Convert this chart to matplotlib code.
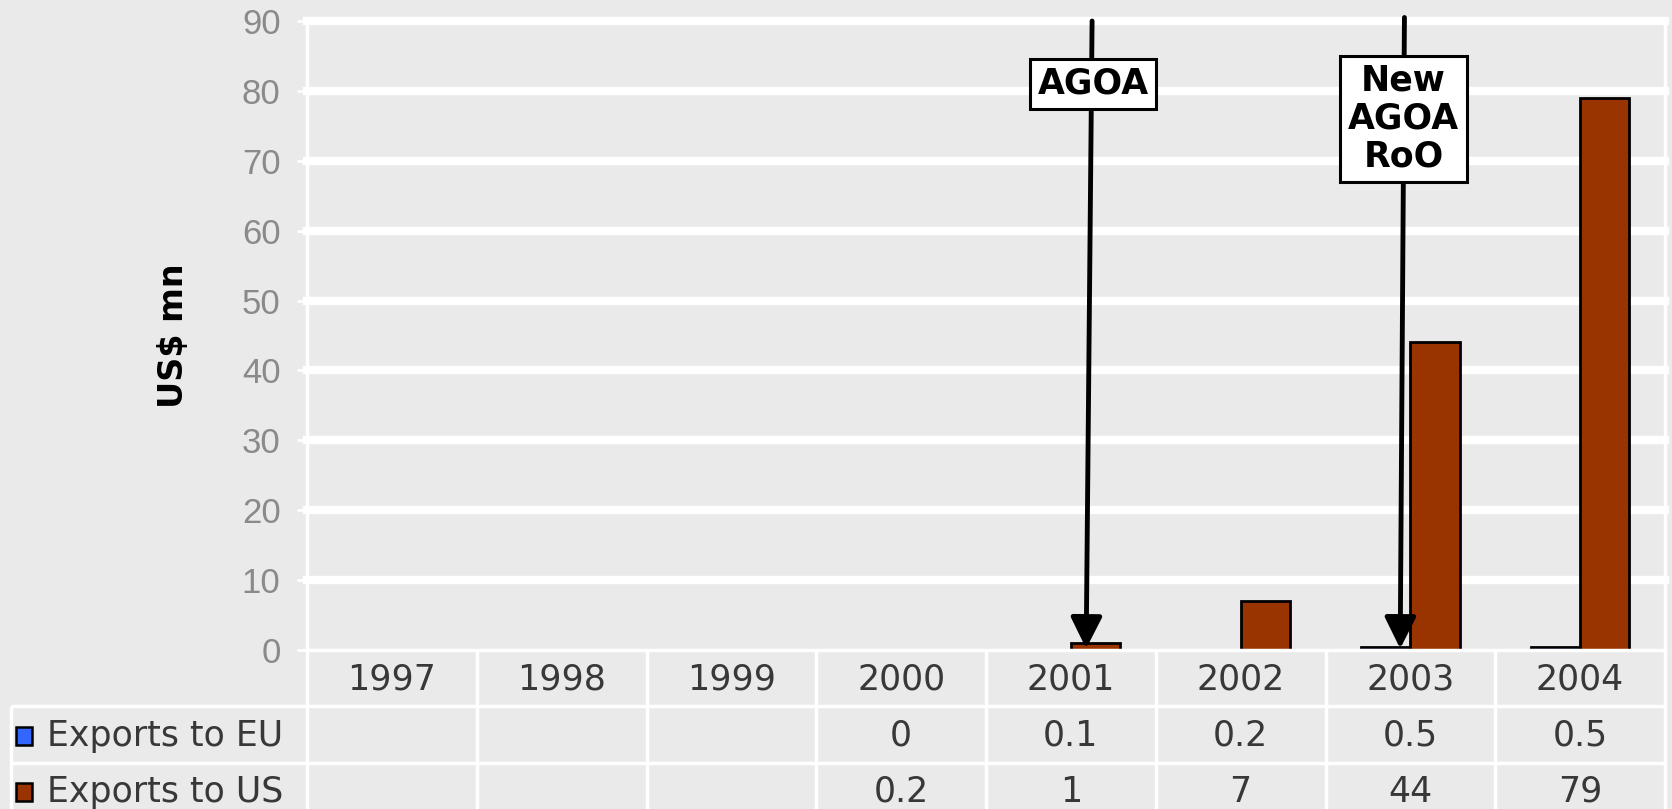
import matplotlib.pyplot as plt
import numpy as np

# data
years = ['1997', '1998', '1999', '2000', '2001', '2002', '2003', '2004']
eu_exports = [None, None, None, 0, 0.1, 0.2, 0.5, 0.5]
us_exports = [None, None, None, 0.2, 1, 7, 44, 79]
series_names = ['Exports to EU', 'Exports to US']
yticks = [0, 10, 20, 30, 40, 50, 60, 70, 80, 90]

bg = '#EAEAEA'
c_eu = '#3366FF'
c_us = '#993300'
txt = '#383838'

W_PX, H_PX = 1672, 809
fig = plt.figure(figsize=(W_PX / 100, H_PX / 100), dpi=100, facecolor=bg)

# plot area in pixels
x0, x1 = 307, 1665
y_top, y_zero = 21, 650
L, Wd = x0 / W_PX, (x1 - x0) / W_PX
ax = fig.add_axes([L, 1 - y_zero / H_PX, Wd, (y_zero - y_top) / H_PX], facecolor=bg)

n = len(years)
x = np.arange(n)
bw = 0.29
eu = np.array([np.nan if v is None else v for v in eu_exports], dtype=float)
us = np.array([np.nan if v is None else v for v in us_exports], dtype=float)

for t in yticks[1:]:
    ax.axhline(t, color='white', lw=6, zorder=0, clip_on=False)

# bars thinner than a pixel are not drawn at all in the original
for xs, vals, col in [(x - bw / 2, eu, c_eu), (x + bw / 2, us, c_us)]:
    bars = ax.bar(xs, vals, bw, color=col, edgecolor='black', lw=2, zorder=2)
    for b, v in zip(bars, vals):
        if not np.isnan(v) and v < 0.3:
            b.set_visible(False)

ax.set_xlim(-0.5, n - 0.5)
ax.set_ylim(0, 90)
ax.set_yticks(yticks)
ax.set_xticks([])
ax.tick_params(axis='y', colors='white', labelcolor='#8A8A8A', length=7, width=2,
               pad=12, labelsize=25)
for lab in ax.get_yticklabels():
    lab.set_family('Liberation Sans')
ax.spines['top'].set_visible(False)
for s in ['left', 'right', 'bottom']:
    ax.spines[s].set_color('white')
    ax.spines[s].set_linewidth(2.5)

fig.text(174 / W_PX, 1 - 336 / H_PX, 'US$ mn', rotation=90, ha='center', va='center',
         fontsize=24, fontweight='bold', family='DejaVu Sans', color='black')

# annotation arrows
arrow_kw = dict(arrowstyle='-|>,head_length=0.4,head_width=0.2', color='black',
                lw=3.5, mutation_scale=48, shrinkA=0, shrinkB=0)
ax.annotate('', xy=(4.09, 0.2), xytext=(4.125, 90), arrowprops=arrow_kw,
            annotation_clip=False, zorder=4)
ax.annotate('', xy=(5.94, 0.2), xytext=(5.965, 90.5), arrowprops=arrow_kw,
            annotation_clip=False, zorder=4)
box = dict(boxstyle='square,pad=0.22', fc='white', ec='black', lw=2.2)
ax.text(4.13, 81, 'AGOA', ha='center', va='center', fontsize=25, fontweight='bold',
        family='DejaVu Sans', bbox=box, zorder=5)
ax.text(5.96, 76, 'New\nAGOA\nRoO', ha='center', va='center', fontsize=25,
        fontweight='bold', family='DejaVu Sans', linespacing=1.15, bbox=box, zorder=5)

# data table below the plot
tab_h = H_PX - y_zero
tab = fig.add_axes([L, 0, Wd, tab_h / H_PX])
tab.set_xlim(-0.5, n - 0.5)
tab.set_ylim(tab_h, 0)
tab.axis('off')

cw = (x1 - x0) / n
def px2x(px):
    return (px - x0) / cw - 0.5

row_lines = [0, 56, 113]
left_edge = px2x(11)
line_kw = dict(color='white', lw=2.5, clip_on=False, solid_capstyle='butt')
for yy in row_lines[1:]:
    tab.plot([left_edge, n - 0.5], [yy, yy], **line_kw)
for i in range(n + 1):
    tab.plot([i - 0.5, i - 0.5], [0, tab_h], **line_kw)
tab.plot([left_edge, left_edge], [row_lines[1], tab_h], **line_kw)

fs = 25
for i, yr in enumerate(years):
    tab.text(i, 29, yr, ha='center', va='center', fontsize=fs, color=txt,
             family='DejaVu Sans', clip_on=False)

rows = [(series_names[0], eu_exports, c_eu, 86), (series_names[1], us_exports, c_us, 142)]
for name, vals, col, yc in rows:
    tab.add_patch(plt.Rectangle((px2x(16), yc - 9), 16 / cw, 18, facecolor=col,
                                edgecolor='black', lw=1.8, clip_on=False))
    tab.text(px2x(47), yc, name, ha='left', va='center', fontsize=fs, color=txt,
             family='DejaVu Sans', clip_on=False)
    for i, v in enumerate(vals):
        if v is not None:
            tab.text(i, yc, f'{v:g}', ha='center', va='center', fontsize=fs,
                     color=txt, family='DejaVu Sans', clip_on=False)

fig.savefig('out.png', dpi=100, facecolor=bg)
